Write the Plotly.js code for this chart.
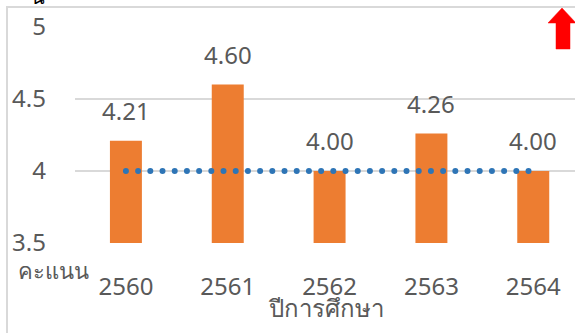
<!DOCTYPE html>
<html>
<head>
<meta charset="utf-8">
<script src="https://cdn.plot.ly/plotly-3.0.1.min.js"></script>
<style>
  html, body { margin: 0; padding: 0; background: #ffffff; overflow: hidden; }
  #chart { width: 575px; height: 333px; }
</style>
</head>
<body>
<div id="chart"></div>
<script>
// Average scores per academic year, with the target level
var years = ['2560', '2561', '2562', '2563', '2564'];
var scores = [4.21, 4.60, 4.00, 4.26, 4.00];
var target = [4.00, 4.00, 4.00, 4.00, 4.00];
var yTicks = [3.5, 4, 4.5, 5];
var yTickText = ['3.5', '4', '4.5', '5'];

var W = 575, H = 333;
var M = { l: 75, r: 0, t: 27, b: 90 };
var plotW = W - M.l - M.r, plotH = H - M.t - M.b;
// pixel -> paper coordinate helpers for decorations
function px(x) { return (x - M.l) / plotW; }
function py(y) { return (H - M.b - y) / plotH; }

var FONT = '"Segoe UI", "Noto Sans", "Open Sans", "DejaVu Sans", sans-serif';
var GREY = '#595959';

var bars = {
  type: 'bar',
  x: years,
  y: scores,
  marker: { color: '#ED7D31' },
  hoverinfo: 'none'
};

var targetLine = {
  type: 'scatter',
  mode: 'lines',
  x: years,
  y: target,
  line: { color: '#2E75B6', width: 6, dash: '0px,12.2px' },
  hoverinfo: 'none'
};

// value labels above each bar (category index used as x position)
var labels = years.map(function (yr, i) {
  return {
    x: i, y: scores[i], xref: 'x', yref: 'y',
    text: scores[i].toFixed(2),
    showarrow: false, xanchor: 'center', yanchor: 'bottom', yshift: 12,
    font: { family: FONT, size: 24, color: GREY }
  };
});

labels.push({
  xref: 'paper', yref: 'paper', x: px(53), y: py(270),
  text: 'คะแนน', showarrow: false, xanchor: 'center', yanchor: 'middle',
  font: { family: FONT, size: 22, color: GREY }
});
labels.push({
  xref: 'paper', yref: 'paper', x: px(326), y: py(307),
  text: 'ปีการศึกษา', showarrow: false, xanchor: 'center', yanchor: 'middle',
  font: { family: FONT, size: 24, color: GREY }
});
labels.push({
  xref: 'paper', yref: 'paper', x: px(38), y: py(12),
  text: 'น', showarrow: false, xanchor: 'center', yanchor: 'bottom',
  font: { family: FONT, size: 20, color: '#000000' }
});

var shapes = [
  // outer frame (left and top edges)
  {
    type: 'path', xref: 'paper', yref: 'paper',
    path: 'M' + px(7) + ',' + py(340) + ' L' + px(7) + ',' + py(7) + ' L' + px(580) + ',' + py(7),
    line: { color: '#D9D9D9', width: 2 }
  },
  // red up arrow
  {
    type: 'path', xref: 'paper', yref: 'paper',
    path: 'M' + px(562) + ',' + py(8) +
          ' L' + px(576) + ',' + py(23) +
          ' L' + px(570) + ',' + py(23) +
          ' L' + px(570) + ',' + py(49) +
          ' L' + px(556) + ',' + py(49) +
          ' L' + px(556) + ',' + py(23) +
          ' L' + px(548) + ',' + py(23) + ' Z',
    fillcolor: '#FF0000', line: { color: '#FF0000', width: 0.5 }
  }
];

var layout = {
  width: W, height: H,
  margin: M,
  paper_bgcolor: '#ffffff',
  plot_bgcolor: '#ffffff',
  showlegend: false,
  bargap: 0.686,
  font: { family: FONT, size: 22, color: GREY },
  xaxis: {
    type: 'category',
    range: [-0.5, 4.41],
    showgrid: false, zeroline: false, showline: false,
    ticks: '', ticklabelstandoff: 27,
    tickfont: { family: FONT, size: 24, color: GREY },
    fixedrange: true
  },
  yaxis: {
    range: [3.5, 5],
    tickvals: yTicks, ticktext: yTickText,
    showgrid: true, gridcolor: '#D9D9D9', gridwidth: 2,
    zeroline: false, showline: false,
    ticks: '', ticklabelstandoff: 28,
    tickfont: { family: FONT, size: 24, color: GREY },
    fixedrange: true
  },
  annotations: labels,
  shapes: shapes
};

Plotly.newPlot('chart', [bars, targetLine], layout, { displayModeBar: false, staticPlot: true })
  .then(function (gd) {
    // round caps turn the zero-length dashes into dots
    gd.querySelectorAll('.scatterlayer .js-line').forEach(function (p) {
      p.style.strokeLinecap = 'round';
    });
  });
</script>
</body>
</html>
